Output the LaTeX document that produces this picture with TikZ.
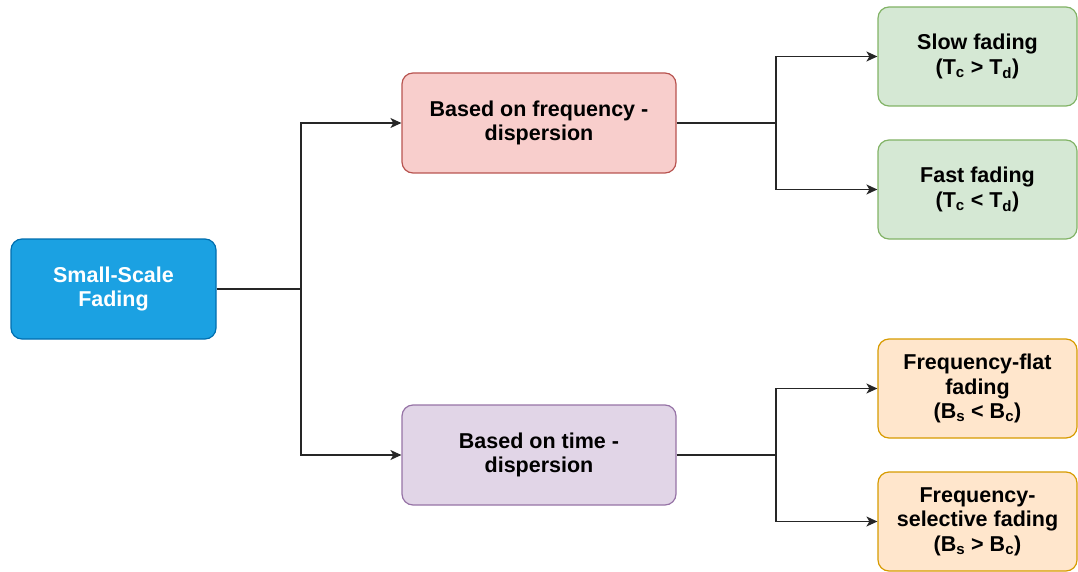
\documentclass[tikz,border=0pt]{standalone}
\usepackage{fontspec}
\setmainfont{Liberation Sans}
\usetikzlibrary{arrows.meta}
\definecolor{rootfill}{HTML}{1BA1E2}\definecolor{rootline}{HTML}{006EAF}
\definecolor{redfill}{HTML}{F8CECC}\definecolor{redline}{HTML}{B85450}
\definecolor{purfill}{HTML}{E1D5E7}\definecolor{purline}{HTML}{9673A6}
\definecolor{grnfill}{HTML}{D5E8D4}\definecolor{grnline}{HTML}{82B366}
\definecolor{orgfill}{HTML}{FFE6CC}\definecolor{orgline}{HTML}{D79B00}
\begin{document}
\begin{tikzpicture}[x=1pt,y=-1pt,
  card/.style={rounded corners=11pt, line width=1.2pt, align=center, inner sep=0pt,
    font=\bfseries\fontsize{21.5}{24.5}\selectfont},
  rootbox/.style={card, minimum width=205pt, minimum height=100pt, fill=rootfill, draw=rootline, text=white},
  midbox/.style={card, minimum width=274pt, minimum height=100pt},
  leafbox/.style={card, minimum width=199pt, minimum height=99pt},
  link/.style={line width=1.4pt, draw=black!85},
  arr/.style={link, -{Stealth[length=11pt,width=10pt,inset=3pt]}}]
\useasboundingbox (0,0) rectangle (1078,572);

% tree nodes
\node[rootbox] (root) at (113.5,289) {Small-Scale\\Fading};
\node[midbox, fill=redfill, draw=redline] (freq) at (539,123) {Based on frequency -\\dispersion};
\node[midbox, fill=purfill, draw=purline] (time) at (539,455) {Based on time -\\dispersion};
\node[leafbox, fill=grnfill, draw=grnline] (slow) at (977.5,56.5) {Slow fading\\(T\textsubscript{c} > T\textsubscript{d})};
\node[leafbox, fill=grnfill, draw=grnline] (fast) at (977.5,189.5) {Fast fading\\(T\textsubscript{c} < T\textsubscript{d})};
\node[leafbox, fill=orgfill, draw=orgline] (flat) at (977.5,388.5) {Frequency-flat\\fading\\(B\textsubscript{s} < B\textsubscript{c})};
\node[leafbox, fill=orgfill, draw=orgline] (sel) at (977.5,521.5) {Frequency-\\selective fading\\(B\textsubscript{s} > B\textsubscript{c})};

% branch points
\coordinate (j1) at (301,289);
\coordinate (j2) at (776,123);
\coordinate (j3) at (776,455);

% connectors
\draw[link] (root.east) -- (j1);
\draw[arr] (j1) |- (freq.west);
\draw[arr] (j1) |- (time.west);
\draw[link] (freq.east) -- (j2);
\draw[arr] (j2) |- (slow.west);
\draw[arr] (j2) |- (fast.west);
\draw[link] (time.east) -- (j3);
\draw[arr] (j3) |- (flat.west);
\draw[arr] (j3) |- (sel.west);
\end{tikzpicture}
\end{document}
